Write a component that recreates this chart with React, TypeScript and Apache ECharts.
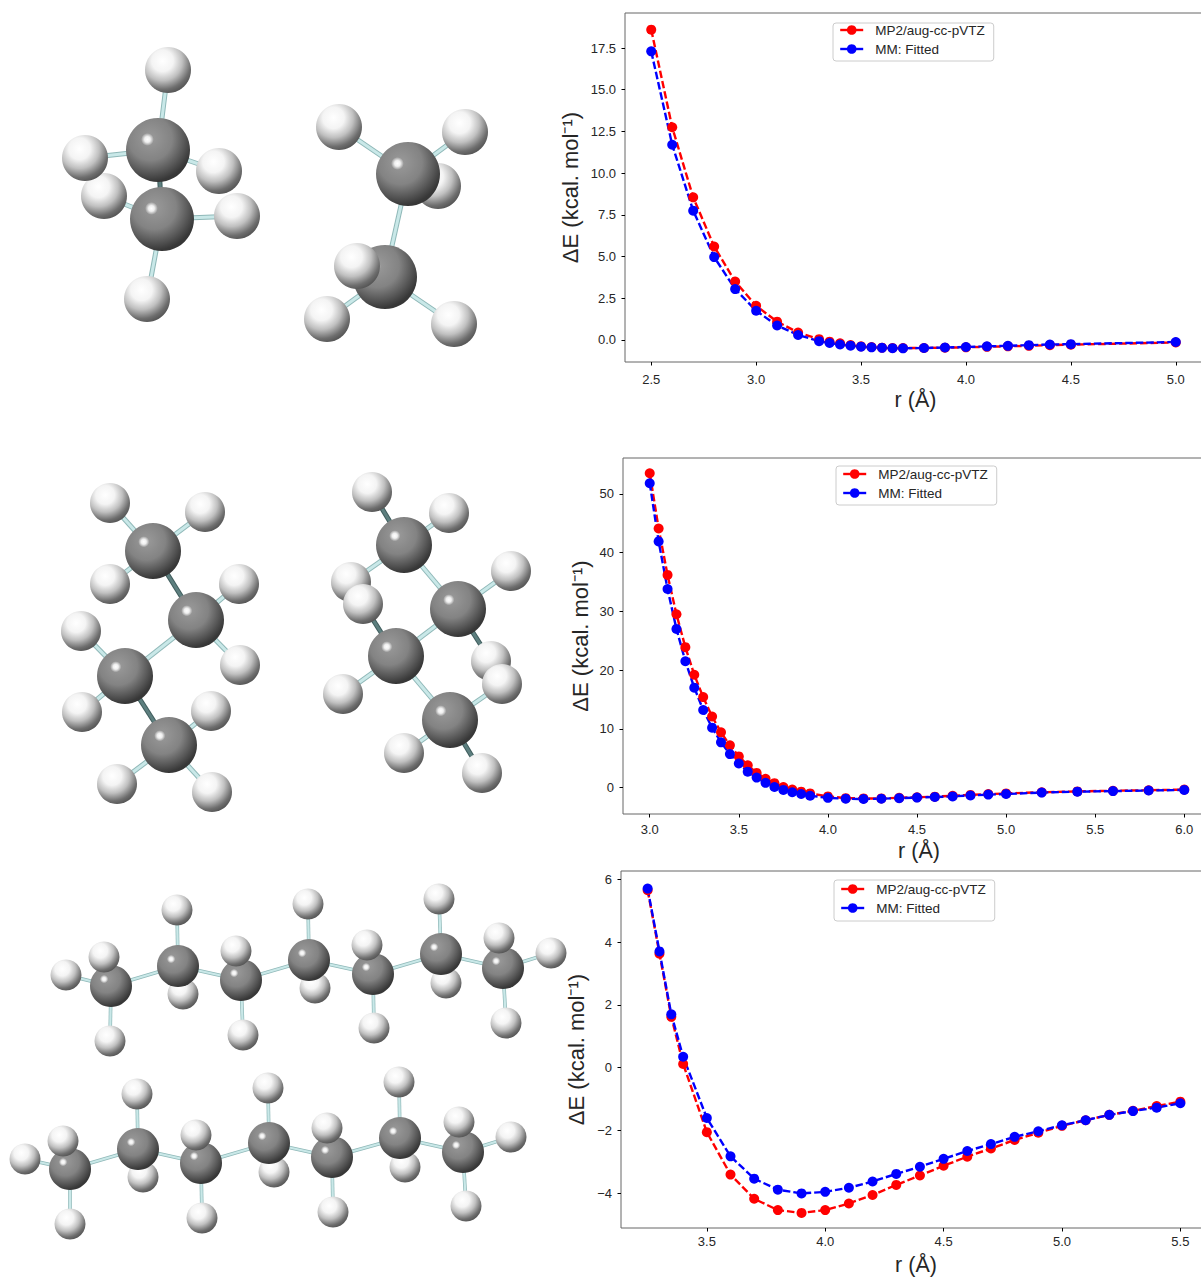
import React, { useEffect, useRef } from "react";
import * as echarts from "echarts";

const W = 1201;
const H = 1278;
const FONT = "'Liberation Sans', Arial, sans-serif";
const RED_NAME = "MP2/aug-cc-pVTZ";
const BLUE_NAME = "MM: Fitted";
const X_TITLE = "r (Å)";
const Y_TITLE = "ΔE (kcal. mol⁻¹)";

// ---- panel 1
const r1 = [2.5, 2.6, 2.7, 2.8, 2.9, 3.0, 3.1, 3.2, 3.3, 3.35, 3.4, 3.45, 3.5, 3.55, 3.6, 3.65, 3.7, 3.8, 3.9, 4.0, 4.1, 4.2, 4.3, 4.4, 4.5, 5.0];
const mp2_1 = [18.6, 12.75, 8.55, 5.6, 3.5, 2.05, 1.1, 0.45, 0.05, -0.1, -0.2, -0.3, -0.38, -0.42, -0.46, -0.48, -0.48, -0.48, -0.46, -0.44, -0.41, -0.38, -0.35, -0.31, -0.28, -0.15];
const mm_1 = [17.3, 11.7, 7.75, 4.97, 3.05, 1.75, 0.87, 0.3, -0.07, -0.18, -0.27, -0.34, -0.4, -0.44, -0.47, -0.49, -0.5, -0.48, -0.45, -0.42, -0.38, -0.35, -0.31, -0.27, -0.25, -0.12];
const xTicks1 = [2.5, 3.0, 3.5, 4.0, 4.5, 5.0];
const yTicks1 = [0, 2.5, 5, 7.5, 10, 12.5, 15, 17.5];

// ---- panel 2
const r2 = [3.0, 3.05, 3.1, 3.15, 3.2, 3.25, 3.3, 3.35, 3.4, 3.45, 3.5, 3.55, 3.6, 3.65, 3.7, 3.75, 3.8, 3.85, 3.9, 4.0, 4.1, 4.2, 4.3, 4.4, 4.5, 4.6, 4.7, 4.8, 4.9, 5.0, 5.2, 5.4, 5.6, 5.8, 6.0];
const mp2_2 = [53.5, 44.1, 36.2, 29.5, 23.9, 19.2, 15.4, 12.1, 9.4, 7.2, 5.3, 3.8, 2.5, 1.5, 0.75, 0.1, -0.35, -0.7, -1.0, -1.5, -1.8, -1.85, -1.85, -1.75, -1.65, -1.55, -1.4, -1.25, -1.1, -1.0, -0.8, -0.65, -0.55, -0.45, -0.35];
const mm_2 = [51.8, 41.9, 33.8, 27.0, 21.5, 17.0, 13.2, 10.2, 7.7, 5.7, 4.1, 2.7, 1.7, 0.8, 0.1, -0.4, -0.8, -1.1, -1.4, -1.75, -1.9, -1.95, -1.9, -1.8, -1.7, -1.6, -1.5, -1.35, -1.2, -1.1, -0.85, -0.7, -0.6, -0.5, -0.4];
const xTicks2 = [3.0, 3.5, 4.0, 4.5, 5.0, 5.5, 6.0];
const yTicks2 = [0, 10, 20, 30, 40, 50];

// ---- panel 3
const r3 = [3.25, 3.3, 3.35, 3.4, 3.5, 3.6, 3.7, 3.8, 3.9, 4.0, 4.1, 4.2, 4.3, 4.4, 4.5, 4.6, 4.7, 4.8, 4.9, 5.0, 5.1, 5.2, 5.3, 5.4, 5.5];
const mp2_3 = [5.65, 3.63, 1.62, 0.12, -2.05, -3.4, -4.17, -4.53, -4.62, -4.53, -4.32, -4.05, -3.73, -3.43, -3.12, -2.83, -2.57, -2.3, -2.07, -1.85, -1.67, -1.5, -1.37, -1.22, -1.08];
const mm_3 = [5.7, 3.7, 1.7, 0.35, -1.6, -2.82, -3.53, -3.88, -4.0, -3.95, -3.82, -3.62, -3.38, -3.15, -2.9, -2.65, -2.43, -2.2, -2.02, -1.83, -1.67, -1.5, -1.38, -1.27, -1.13];
const xTicks3 = [3.5, 4.0, 4.5, 5.0, 5.5];
const yTicks3 = [-4, -2, 0, 2, 4, 6];

// ---- molecule illustrations: [x, y, kind, dark], kind: C carbon (in chain order), H hydrogen, B hydrogen behind the carbons
// "d" marks a bond in shadow (for a carbon: the bond to the next carbon)
const ethaneA = [[104, 196, "B"], [158, 150, "C", "d"], [162, 219, "C"], [168, 70, "H"], [85, 158, "H"], [219, 171, "H"], [237, 216, "H"], [147, 299, "H"]];
const ethaneB = [[438, 186, "B"], [408, 174, "C"], [385, 277, "C"], [339, 127, "H"], [465, 132, "H"], [357, 266, "H"], [327, 319, "H"], [454, 324, "H"]];
const butaneA = [[153, 551, "C", "d"], [196, 620, "C"], [125, 676, "C", "d"], [169, 745, "C"], [110, 503, "H"], [205, 512, "H"], [110, 584, "H"], [239, 584, "H"], [240, 665, "H"], [81, 631, "H"], [82, 712, "H"], [211, 711, "H"], [117, 784, "H"], [212, 792, "H"]];
const butaneB = [[404, 545, "C"], [458, 609, "C"], [396, 656, "C"], [450, 720, "C"], [372, 492, "H", "d"], [449, 513, "H"], [351, 582, "H"], [363, 604, "H", "d"], [511, 571, "H"], [491, 661, "H", "d"], [502, 684, "H"], [343, 694, "H"], [404, 753, "H"], [482, 773, "H", "d"]];
const heptaneA = [[183, 994, "B"], [315, 988, "B"], [446, 983, "B"], [111, 986, "C"], [178, 966, "C"], [241, 980, "C"], [309, 960, "C"], [373, 974, "C"], [441, 954, "C"], [503, 968, "C"], [66, 975, "H"], [104, 957, "H"], [110, 1041, "H"], [177, 910, "H"], [236, 951, "H"], [243, 1035, "H"], [308, 904, "H"], [367, 945, "H"], [374, 1028, "H"], [439, 899, "H"], [499, 938, "H"], [506, 1023, "H"], [551, 953, "H"]];
const heptaneB = [[143, 1177, "B"], [274, 1172, "B"], [405, 1167, "B"], [70, 1169, "C"], [138, 1149, "C"], [201, 1163, "C"], [269, 1143, "C"], [332, 1157, "C"], [400, 1138, "C"], [463, 1152, "C"], [25, 1159, "H"], [63, 1141, "H"], [70, 1224, "H"], [137, 1094, "H"], [196, 1135, "H"], [202, 1218, "H"], [268, 1088, "H"], [327, 1128, "H"], [333, 1212, "H"], [399, 1082, "H"], [459, 1122, "H"], [466, 1206, "H"], [511, 1137, "H"]];

const H_FILL = {
  type: "radial", x: 0.38, y: 0.3, r: 0.78,
  colorStops: [
    { offset: 0, color: "#ffffff" }, { offset: 0.3, color: "#f4f4f4" }, { offset: 0.55, color: "#c0c0c0" },
    { offset: 0.8, color: "#6e6e6e" }, { offset: 1, color: "#484848" },
  ],
};
const C_FILL = {
  type: "radial", x: 0.38, y: 0.32, r: 0.76,
  colorStops: [
    { offset: 0, color: "#9a9a9a" }, { offset: 0.45, color: "#838383" }, { offset: 0.7, color: "#585858" },
    { offset: 0.88, color: "#383838" }, { offset: 1, color: "#333333" },
  ],
};
const GLINT = {
  type: "radial", x: 0.5, y: 0.5, r: 0.5,
  colorStops: [
    { offset: 0, color: "rgba(255,255,255,1)" }, { offset: 0.45, color: "rgba(255,255,255,0.85)" }, { offset: 1, color: "rgba(255,255,255,0)" },
  ],
};

function molecule(atoms: any[], rC: number, rH: number) {
  const carbons = atoms.filter((a) => a[2] === "C");
  const hs = atoms.filter((a) => a[2] !== "C");
  const out: any[] = [];
  const ball = (a: any) =>
    out.push({ type: "circle", silent: true, shape: { cx: a[0], cy: a[1], r: rH }, style: { fill: H_FILL } });
  const bond = (p: any, q: any, dark: boolean) => {
    const shape = { x1: p[0], y1: p[1], x2: q[0], y2: q[1] };
    const big = rC > 25;
    out.push({ type: "line", silent: true, shape, style: { stroke: dark ? "#3f5c5c" : "#8fb8b8", lineWidth: big ? 5 : 3.6 } });
    out.push({ type: "line", silent: true, shape, style: { stroke: dark ? "#5d7f7f" : "#c9e8e8", lineWidth: big ? 3 : 2.2 } });
  };
  for (let i = 0; i + 1 < carbons.length; i++) bond(carbons[i], carbons[i + 1], carbons[i][3] === "d");
  hs.forEach((h) => {
    let best = carbons[0];
    let d = Infinity;
    carbons.forEach((c) => {
      const t = Math.hypot(c[0] - h[0], c[1] - h[1]);
      if (t < d) { d = t; best = c; }
    });
    bond(best, h, h[3] === "d");
  });
  hs.filter((a) => a[2] === "B").forEach(ball);
  carbons.forEach((c) => {
    out.push({ type: "circle", silent: true, shape: { cx: c[0], cy: c[1], r: rC }, style: { fill: C_FILL } });
    out.push({ type: "circle", silent: true, shape: { cx: c[0] - rC * 0.33, cy: c[1] - rC * 0.33, r: rC * 0.2 }, style: { fill: GLINT } });
  });
  hs.filter((a) => a[2] === "H").forEach(ball);
  return out;
}

const fmt1 = (v: number) => v.toFixed(1);
const fmtInt = (v: number) => (v < 0 ? "\u2212" + Math.abs(v) : String(v));

const panels = [
  { r: r1, red: mp2_1, blue: mm_1, xTicks: xTicks1, yTicks: yTicks1, yFmt: fmt1,
    left: 625, top: 13, width: 577, height: 349, xMin: 2.375, xMax: 5.125, yMin: -1.32, yMax: 19.6,
    legendLeft: 833, legendTop: 23, legendPadTop: 0, legendPadBottom: 5, nameGapY: 44, nameGapX: 27, xLabelMargin: 10.5 },
  { r: r2, red: mp2_2, blue: mm_2, xTicks: xTicks2, yTicks: yTicks2, yFmt: fmtInt,
    left: 623, top: 458, width: 588, height: 356, xMin: 2.85, xMax: 6.15, yMin: -4.5, yMax: 56.1,
    legendLeft: 836, legendTop: 466, legendPadTop: 1, legendPadBottom: 5, nameGapY: 32, nameGapX: 26, xLabelMargin: 8.5 },
  { r: r3, red: mp2_3, blue: mm_3, xTicks: xTicks3, yTicks: yTicks3, yFmt: fmtInt,
    left: 621, top: 871, width: 586, height: 357, xMin: 3.1375, xMax: 5.6125, yMin: -5.1, yMax: 6.26,
    legendLeft: 834, legendTop: 880, legendPadTop: 2, legendPadBottom: 6, nameGapY: 34, nameGapX: 26, xLabelMargin: 6.5 },
];

function buildOption() {
  const textCommon = { fontFamily: FONT, color: "#262626" };
  const series: any[] = [];
  panels.forEach((p, i) => {
    [[RED_NAME, p.red, "#ff0000"], [BLUE_NAME, p.blue, "#0000ff"]].forEach(([name, vals, color]: any) => {
      series.push({
        type: "line", name, xAxisIndex: i, yAxisIndex: i,
        data: p.r.map((x, k) => [x, vals[k]]),
        symbol: "circle", symbolSize: 10, clip: false,
        itemStyle: { color },
        lineStyle: { color, width: 2.4, type: [7.5, 3] },
      });
    });
  });
  return {
    animation: false,
    backgroundColor: "#ffffff",
    textStyle: { fontFamily: FONT },
    graphic: {
      elements: [
        ...molecule(ethaneA, 32, 23), ...molecule(ethaneB, 32, 23),
        ...molecule(butaneA, 28, 20), ...molecule(butaneB, 28, 20),
        ...molecule(heptaneA, 21, 15.5), ...molecule(heptaneB, 21, 15.5),
      ],
    },
    grid: panels.map((p) => ({
      left: p.left, top: p.top, width: p.width, height: p.height,
      show: true, borderColor: "#666666", borderWidth: 1, backgroundColor: "transparent",
    })),
    xAxis: panels.map((p, i) => ({
      type: "value", gridIndex: i, min: p.xMin, max: p.xMax,
      name: X_TITLE, nameLocation: "middle", nameGap: p.nameGapX,
      nameTextStyle: { ...textCommon, fontSize: 21.5, padding: [0, 0, 0, 4] },
      axisLine: { show: false, onZero: false }, splitLine: { show: false },
      axisTick: { show: true, length: 3.5, customValues: p.xTicks, lineStyle: { color: "#000", width: 1 } },
      axisLabel: { show: true, margin: p.xLabelMargin, fontSize: 13, ...textCommon, customValues: p.xTicks, formatter: fmt1 },
    })),
    yAxis: panels.map((p, i) => ({
      type: "value", gridIndex: i, min: p.yMin, max: p.yMax,
      name: Y_TITLE, nameLocation: "middle", nameRotate: 90, nameGap: p.nameGapY,
      nameTextStyle: { ...textCommon, fontSize: 22 },
      axisLine: { show: false, onZero: false }, splitLine: { show: false },
      axisTick: { show: true, length: 3.5, customValues: p.yTicks, lineStyle: { color: "#000", width: 1 } },
      axisLabel: { show: true, margin: 9, fontSize: 13, ...textCommon, customValues: p.yTicks, formatter: p.yFmt },
    })),
    legend: panels.map((p) => ({
      data: [RED_NAME, BLUE_NAME],
      left: p.legendLeft, top: p.legendTop, orient: "vertical",
      padding: [p.legendPadTop, 9, p.legendPadBottom, 6], itemGap: 5, itemWidth: 23, itemHeight: 12, symbolSize: 9,
      backgroundColor: "#ffffff", borderColor: "#cccccc", borderWidth: 1, borderRadius: 3,
      selectedMode: false,
      lineStyle: { type: "solid", width: 2.4 },
      textStyle: { fontFamily: FONT, fontSize: 13.5, lineHeight: 12, color: "#262626", padding: [0, 0, 0, 7] },
    })),
    series,
  };
}

export default function App() {
  const ref = useRef<HTMLDivElement>(null);
  useEffect(() => {
    const chart = echarts.init(ref.current as HTMLDivElement, undefined, { renderer: "svg" });
    chart.setOption(buildOption() as any);
    return () => chart.dispose();
  }, []);
  return (
    <div style={{ position: "absolute", left: 0, top: 0, width: W, height: H, overflow: "hidden" }}>
      <div ref={ref} style={{ width: W + 40, height: H }} />
    </div>
  );
}
